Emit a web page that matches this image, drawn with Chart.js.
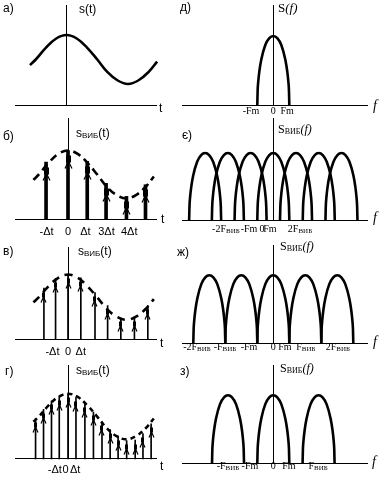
<!DOCTYPE html>
<html><head><meta charset="utf-8">
<script src="https://cdn.jsdelivr.net/npm/chart.js@4/dist/chart.umd.min.js"></script>
<style>
html,body{margin:0;padding:0;background:#fff;}
#wrap{position:relative;width:383px;height:478px;overflow:hidden;background:#fff;}
#wrap canvas{position:absolute;}
</style></head><body><div id="wrap"></div>
<script>
// ---------- time domain (t in units of the б-panel sampling step) ----------
const signalT = [-1.78,-1.5,-1,-0.5,0,0.5,1,1.5,2,2.5,3,3.5,4,4.42];
const signalS = [0.57,0.65,0.82,0.95,1.0,0.95,0.82,0.65,0.47,0.35,0.30,0.35,0.47,0.62];

const sampB_T = [-1.13,0,0.99,1.96,3.01,3.99];
const sampB_S = [0.83,1.0,0.84,0.52,0.33,0.50];
const sampV_T = [-1.24,-0.64,0,0.66,1.39,2.04,2.72,3.42,4.11];
const sampV_S = [0.79,0.94,1.0,0.95,0.72,0.52,0.33,0.33,0.52];
const sampG_T = [-1.67,-1.26,-0.85,-0.45,0,0.41,0.87,1.31,1.75,2.17,2.58,3.02,3.46,3.86,4.28];
const sampG_S = [0.62,0.76,0.89,0.96,1.0,0.94,0.85,0.72,0.57,0.45,0.35,0.28,0.29,0.39,0.54];

const tickB_T = [-1.1,0,0.9,1.98,3.15];
const tickB_L = ['-Δt','0','Δt','3Δt','4Δt'];
const tickV_T = [-0.8,0,0.66];
const tickV_L = ['-Δt','0','Δt'];
const tickG_T = [-0.68,-0.12,0.37];
const tickG_L = ['-Δt','0','Δt'];

// ---------- frequency domain (f in units of Fm) ----------
const humpU = [-1,-0.98,-0.94,-0.87,-0.75,-0.5,-0.25,0,0.25,0.5,0.75,0.87,0.94,0.98,1];
const humpA = [0,0.2,0.34,0.49,0.66,0.87,0.97,1,0.97,0.87,0.66,0.49,0.34,0.2,0];
const centersD = [0];
const centersE = [-4.26,-2.84,-1.42,0,1.42,2.84,4.26];
const centersZh = [-4,-2,0,2,4];
const centersZ = [-2.83,0,2.83];

const tickD_F = [-1.39,0,0.86];
const tickD_L = ['-Fm','0','Fm'];
const tickE_F = [-2.96,-1.52,-0.71,-0.21,1.67];
const tickE_L = ['-2F|виб','-Fm','0','Fm','2F|виб'];
const tickZh_F = [-4.77,-3.02,-1.52,0,0.73,2.04,4.04];
const tickZh_L = ['-2F|виб','-F|виб','-Fm','0','Fm','F|виб','2F|виб'];
const tickZ_F = [-2.83,-1.46,0,0.98,2.8];
const tickZ_L = ['-F|виб','-Fm','0','Fm','F|виб'];

// ---------- styling / layout ----------
const SANS = '"Liberation Sans", Arial, sans-serif';
const SERIF = '"Liberation Serif", "Times New Roman", serif';
const LEFT = {l:0, w:190, zeroX:66.5, unitX:20.5, hAxis:[15,157]};
const RIGHT = {l:175, w:208, zeroX:273.3, unitX:16, hAxis:[182,368]};

function rich(str, size, fam) {
  const parts = str.split('|');
  return parts.map((p, i) => ({
    t: p,
    font: (i % 2 ? 'small-caps ' : '') + size + 'px ' + fam,
    dy: i % 2 ? 1 : 0
  }));
}
const subTitleR = (sz) => [{t:'S',font:sz+'px '+SERIF},{t:'виб',font:'small-caps '+sz+'px '+SERIF,dy:1},{t:'(f)',font:'italic '+sz+'px '+SERIF}];

const panels = [
  {side:LEFT, top:0, h:118, axisY:105, peakH:70, vTop:5, kind:'signal',
   label:['а)',3,12], title:[[{t:'s(t)',font:'12px '+SANS}],79,13], axisName:['t',159,112]},
  {side:LEFT, top:118, h:117, axisY:223, peakH:75, vTop:118, kind:'samples',
   sT:sampB_T, sS:sampB_S, stem:3, big:true, dash:[8,5], ticks:[tickB_T,tickB_L,235],
   label:['б)',3,140], title:[rich('s|виб|(t)',12,SANS),76,137], axisName:['t',161,223]},
  {side:LEFT, top:235, h:120, axisY:343.3, peakH:70.6, vTop:247, kind:'samples',
   sT:sampV_T, sS:sampV_S, stem:1, big:false, dash:[8,6], ticks:[tickV_T,tickV_L,355],
   label:['в)',3,255], title:[rich('s|виб|(t)',12,SANS),78,254.5], axisName:['t',160,346.7]},
  {side:LEFT, top:355, h:123, axisY:462.7, peakH:71, vTop:365, kind:'samples',
   sT:sampG_T, sS:sampG_S, stem:1, big:false, dash:[5,4], ticks:[tickG_T,tickG_L,473],
   label:['г)',5,375], title:[rich('s|виб|(t)',12,SANS),76,373.5], axisName:['t',160,470]},
  {side:RIGHT, top:0, h:118, axisY:105, peakH:69, vTop:5, kind:'spectrum', centers:centersD,
   ticks:[tickD_F,tickD_L,114],
   label:['д)',180,11], title:[[{t:'S',font:'13px '+SERIF},{t:'(f)',font:'italic 13px '+SERIF}],278,12], axisName:['f',373,110]},
  {side:RIGHT, top:118, h:117, axisY:220, peakH:67, vTop:118, kind:'spectrum', centers:centersE,
   ticks:[tickE_F,tickE_L,232],
   label:['є)',182,139], title:[subTitleR(12),278,133], axisName:['f',373,222]},
  {side:RIGHT, top:235, h:120, axisY:343.3, peakH:68, vTop:245, kind:'spectrum', centers:centersZh,
   ticks:[tickZh_F,tickZh_L,350],
   label:['ж)',177,256], title:[subTitleR(12),280,249.5], axisName:['f',373,345.5]},
  {side:RIGHT, top:355, h:123, axisY:463.3, peakH:68, vTop:365, kind:'spectrum', centers:centersZ,
   ticks:[tickZ_F,tickZ_L,469],
   label:['з)',180,375], title:[subTitleR(12),280,371.5], axisName:['f',372,465.5]}
];

// arrow-mark glyph drawn just below each sample tip (image centre = tip)
function makeGlyph(big) {
  const c = document.createElement('canvas');
  c.width = 13; c.height = 45;
  const g = c.getContext('2d');
  const cx = 6.5, cy = 22.5;
  g.strokeStyle = '#000'; g.fillStyle = '#000'; g.lineWidth = 1.2;
  if (big) {
    g.fillRect(cx - 2.5, cy + 5, 5, 7);
    g.beginPath(); g.moveTo(cx - 3.5, cy + 18); g.lineTo(cx, cy + 11); g.lineTo(cx + 3.5, cy + 18); g.stroke();
  } else {
    g.fillRect(cx - 1.5, cy + 4, 3, 5);
    g.beginPath(); g.moveTo(cx - 2.5, cy + 14); g.lineTo(cx, cy + 8.5); g.lineTo(cx + 2.5, cy + 14); g.stroke();
  }
  return c;
}

function drawSegs(ctx, segs, x, y, align) {
  let w = 0;
  segs.forEach(s => { ctx.font = s.font; w += ctx.measureText(s.t).width; });
  let cx = align === 'center' ? x - w / 2 : x;
  ctx.textAlign = 'left'; ctx.textBaseline = 'alphabetic';
  segs.forEach(s => { ctx.font = s.font; ctx.fillText(s.t, cx, y + (s.dy || 0)); cx += ctx.measureText(s.t).width; });
}

const decoPlugin = {
  id: 'deco',
  beforeDatasetsDraw(chart, args, o) {
    const ctx = chart.ctx, xs = chart.scales.x, ys = chart.scales.y;
    ctx.imageSmoothingEnabled = false;
    ctx.save();
    ctx.strokeStyle = '#000'; ctx.lineWidth = 1;
    const y0 = Math.floor(ys.getPixelForValue(0)) + 0.5;
    ctx.beginPath();
    ctx.moveTo(o.hAxis[0] - o.offX, y0); ctx.lineTo(o.hAxis[1] - o.offX, y0); ctx.stroke();
    const x0 = Math.floor(xs.getPixelForValue(0)) + 0.5;
    ctx.beginPath(); ctx.moveTo(x0, o.vTop - o.offY); ctx.lineTo(x0, y0); ctx.stroke();
    ctx.restore();
  },
  afterDatasetsDraw(chart, args, o) {
    const ctx = chart.ctx, xs = chart.scales.x;
    ctx.save();
    ctx.fillStyle = '#000';
    const lbl = o.label;
    drawSegs(ctx, [{t:lbl[0], font:'12px ' + SANS}], lbl[1] - o.offX, lbl[2] - o.offY, 'left');
    drawSegs(ctx, o.title[0], o.title[1] - o.offX, o.title[2] - o.offY, 'left');
    const an = o.axisName;
    const anFont = o.serif ? 'italic 14px ' + SERIF : '12px ' + SANS;
    drawSegs(ctx, [{t:an[0], font:anFont}], an[1] - o.offX, an[2] - o.offY, 'left');
    if (o.ticks) {
      const [pos, txt, base] = o.ticks;
      pos.forEach((v, i) => {
        const segs = o.serif ? rich(txt[i], 10, SERIF) : [{t:txt[i], font:'11px ' + SANS}];
        drawSegs(ctx, segs, xs.getPixelForValue(v), base - o.offY, 'center');
      });
    }
    ctx.restore();
  }
};

const wrap = document.getElementById('wrap');
panels.forEach(p => {
  const s = p.side;
  const cv = document.createElement('canvas');
  cv.width = s.w; cv.height = p.h;
  cv.style.left = s.l + 'px'; cv.style.top = p.top + 'px';
  cv.style.width = s.w + 'px'; cv.style.height = p.h + 'px';
  wrap.appendChild(cv);

  const xMin = (s.l - s.zeroX) / s.unitX, xMax = (s.l + s.w - s.zeroX) / s.unitX;
  const yMax = (p.axisY - p.top) / p.peakH, yMin = (p.axisY - p.top - p.h) / p.peakH;

  const datasets = [];
  const sig = signalT.map((t, i) => ({x:t, y:signalS[i]}));
  if (p.kind === 'signal') {
    datasets.push({type:'line', data:sig, borderColor:'#000', borderWidth:2.6, pointRadius:0, tension:0.4, fill:false});
  } else if (p.kind === 'samples') {
    const pts = p.sT.map((t, i) => ({x:t, y:p.sS[i]}));
    datasets.push({type:'line', data:sig, borderColor:'#000', borderWidth:2.6, borderDash:p.dash, pointRadius:0, tension:0.4, fill:false, order:1});
    datasets.push({type:'bar', data:pts, backgroundColor:'#000', borderWidth:0, barThickness:p.stem, order:2});
    datasets.push({type:'line', data:pts, showLine:false, pointStyle:makeGlyph(p.big), pointRadius:3, order:0});
  } else {
    p.centers.forEach(c => {
      datasets.push({type:'line', data:humpU.map((u, i) => ({x:c + u, y:humpA[i]})),
        borderColor:'#000', borderWidth:2.6, pointRadius:0, cubicInterpolationMode:'monotone', fill:false});
    });
  }

  new Chart(cv, {
    type: 'line',
    data: {datasets},
    options: {
      responsive:false, animation:false, devicePixelRatio:1, events:[],
      layout:{padding:0},
      scales:{
        x:{type:'linear', min:xMin, max:xMax, display:false, offset:false},
        y:{type:'linear', min:yMin, max:yMax, display:false}
      },
      plugins:{
        legend:{display:false}, tooltip:{enabled:false},
        deco:{offX:s.l, offY:p.top, hAxis:s.hAxis, vTop:p.vTop, label:p.label, title:p.title,
              axisName:p.axisName, ticks:p.ticks, serif:s === RIGHT}
      }
    },
    plugins:[decoPlugin]
  });
});
</script></body></html>
